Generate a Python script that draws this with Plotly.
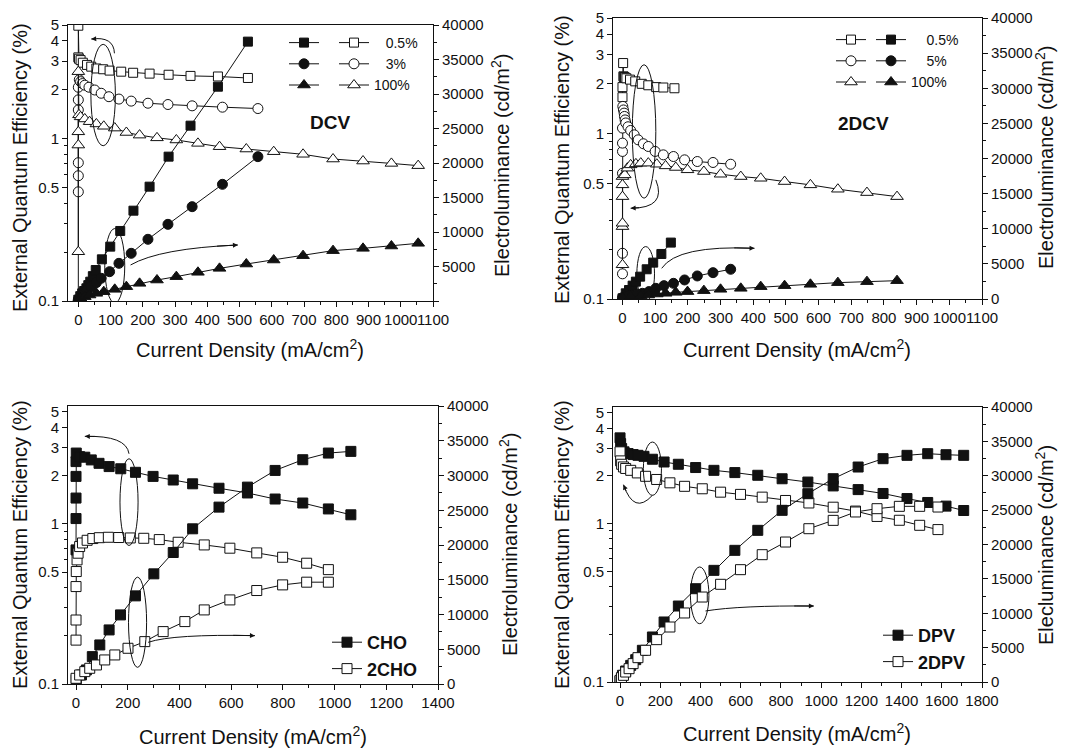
import math
import plotly.graph_objects as go

W, H = 1068, 748          # reference picture size
OFF = 8                   # page body margin of the written html
FW, FH = W - OFF, H - OFF # figure size so that figure + margin fills the window
BLACK = '#111111'
FONT = 'Liberation Sans, Arial, sans-serif'
NB = '\u00a0'

# ---------------- data ----------------
# Panel 1: DCV  (EQE on left log axis, EL on right axis)
dcv05_x_eqe = [0, 0, 0, 2, 7, 14, 27, 40, 56, 77, 97, 133, 170, 221, 280, 348, 433, 526]
dcv05_eqe = [0.08, 4.95, 3.16, 3.10, 3.04, 2.93, 2.84, 2.77, 2.70, 2.67, 2.62, 2.58, 2.54, 2.51, 2.47, 2.43, 2.41, 2.36]
dcv05_x_el = [0, 6, 12, 18, 25, 31, 37, 45, 54, 73, 99, 130, 171, 221, 280, 348, 433, 526]
dcv05_el = [200, 700, 1110, 1450, 1840, 2300, 2800, 3600, 4490, 6040, 7880, 10150, 13090, 16570, 20920, 25410, 31060, 37590]

dcv3_x_eqe = [0, 0, 0, 0, 0, 0, 3, 7, 13, 20, 33, 51, 71, 95, 126, 164, 216, 278, 353, 447, 557]
dcv3_eqe = [0.47, 0.59, 0.71, 1.50, 1.73, 2.07, 2.30, 2.24, 2.18, 2.13, 2.07, 1.99, 1.90, 1.81, 1.75, 1.70, 1.65, 1.62, 1.59, 1.56, 1.53]
dcv3_x_el = [0, 7, 14, 27, 40, 56, 71, 97, 126, 164, 216, 278, 353, 447, 557]
dcv3_el = [240, 560, 870, 1500, 2080, 2660, 3290, 4250, 5460, 6910, 8940, 11110, 13670, 16910, 20920]

dcv100_x_eqe = [0, 0, 0, 0, 2, 7, 20, 35, 56, 79, 113, 149, 190, 244, 304, 371, 438, 521, 606, 697, 790, 883, 971, 1054]
dcv100_eqe = [0.201, 0.912, 1.10, 2.58, 1.40, 1.36, 1.32, 1.27, 1.23, 1.19, 1.16, 1.09, 1.05, 1.01, 0.98, 0.934, 0.891, 0.862, 0.830, 0.80, 0.748, 0.727, 0.703, 0.681]
dcv100_x_el = [0, 7, 20, 35, 56, 79, 113, 149, 190, 244, 304, 371, 438, 521, 606, 697, 790, 883, 971, 1054]
dcv100_el = [240, 390, 630, 870, 1110, 1350, 1690, 2080, 2560, 3040, 3530, 4160, 4730, 5360, 5940, 6570, 7300, 7630, 7970, 8360]

# Panel 2: 2DCV
d2_05_x_eqe = [0, 0, 2, 3, 4, 6, 8, 12, 23, 39, 59, 79, 103, 125, 159]
d2_05_eqe = [1.66, 1.91, 2.67, 2.22, 2.20, 2.19, 2.18, 2.16, 2.12, 2.07, 2.00, 1.96, 1.91, 1.90, 1.88]
d2_05_x_el = [0, 10, 20, 31, 41, 54, 74, 94, 119, 148]
d2_05_el = [100, 810, 1280, 1900, 2470, 3180, 4230, 5180, 6410, 8030]

d2_5_x_eqe = [0, 0, 0, 0, 0, 0, 1, 3, 5, 6, 8, 10, 17, 25, 36, 48, 64, 79, 100, 125, 156, 190, 229, 277, 331]
d2_5_eqe = [0.142, 0.189, 0.576, 0.78, 0.876, 1.08, 1.46, 1.39, 1.33, 1.27, 1.21, 1.16, 1.10, 1.045, 0.983, 0.917, 0.868, 0.836, 0.78, 0.744, 0.727, 0.694, 0.678, 0.669, 0.653]
d2_5_x_el = [0, 15, 31, 46, 61, 81, 102, 127, 156, 190, 229, 277, 331]
d2_5_el = [190, 330, 480, 670, 810, 1050, 1520, 1900, 2230, 2710, 3280, 3750, 4230]

d2_100_x_eqe = [0, 0, 0, 0, 0, 0, 7, 15, 25, 41, 56, 79, 105, 132, 163, 199, 249, 300, 362, 423, 496, 575, 659, 748, 840]
d2_100_eqe = [0.161, 0.274, 0.287, 0.416, 0.49, 0.55, 0.563, 0.618, 0.647, 0.656, 0.663, 0.663, 0.653, 0.638, 0.624, 0.604, 0.59, 0.568, 0.55, 0.537, 0.513, 0.49, 0.461, 0.44, 0.416]
d2_100_x_el = [0, 25, 56, 79, 105, 132, 163, 199, 249, 300, 362, 423, 496, 575, 659, 748, 840]
d2_100_el = [100, 330, 430, 570, 710, 810, 950, 1050, 1190, 1380, 1520, 1760, 1900, 2090, 2330, 2470, 2610]

# Panel 3: CHO / 2CHO
cho_x_eqe = [0, 0, 0, 0, 0, 1, 14, 34, 59, 89, 128, 173, 230, 298, 376, 451, 553, 663, 770, 877, 976, 1063]
cho_eqe = [0.688, 1.08, 1.45, 1.98, 2.45, 2.77, 2.63, 2.61, 2.51, 2.39, 2.28, 2.21, 2.10, 1.98, 1.88, 1.78, 1.67, 1.56, 1.43, 1.35, 1.24, 1.14]
cho_x_el = [1, 21, 40, 63, 92, 128, 172, 230, 301, 376, 451, 553, 663, 770, 877, 976, 1063]
cho_el = [580, 1300, 2020, 3940, 5620, 7780, 9940, 12680, 15850, 18920, 22330, 25450, 28330, 30730, 32270, 33230, 33470]

cho2_x_eqe = [0, 0, 0, 1, 4, 8, 14, 25, 43, 65, 90, 125, 165, 210, 262, 322, 395, 496, 595, 699, 799, 892, 976]
cho2_eqe = [0.188, 0.251, 0.406, 0.504, 0.596, 0.656, 0.722, 0.76, 0.79, 0.81, 0.82, 0.825, 0.822, 0.817, 0.813, 0.798, 0.768, 0.739, 0.705, 0.659, 0.619, 0.568, 0.518]
cho2_x_el = [0, 14, 34, 53, 79, 111, 150, 201, 266, 337, 421, 496, 595, 699, 799, 892, 976]
cho2_el = [820, 1300, 1780, 2260, 2740, 3460, 4180, 5140, 6100, 7540, 8980, 10660, 12100, 13450, 14260, 14650, 14650]

# Panel 4: DPV / 2DPV
dpv_x_eqe = [0, 3, 8, 20, 40, 65, 89, 119, 161, 219, 290, 376, 467, 571, 685, 806, 934, 1060, 1184, 1308, 1427, 1530, 1621, 1709]
dpv_eqe = [3.48, 3.20, 2.98, 2.84, 2.77, 2.73, 2.70, 2.66, 2.55, 2.45, 2.37, 2.26, 2.17, 2.10, 2.02, 1.92, 1.83, 1.73, 1.64, 1.55, 1.44, 1.36, 1.29, 1.21]
dpv_x_el = [0, 12, 28, 53, 78, 111, 161, 219, 290, 376, 467, 571, 685, 806, 934, 1060, 1184, 1308, 1427, 1530, 1621, 1709]
dpv_el = [150, 970, 1600, 2420, 3250, 4610, 6550, 8730, 11050, 13570, 16240, 19150, 22060, 24970, 27390, 29570, 31270, 32480, 32970, 33210, 33060, 32970]

dpv2_x_eqe = [0, 3, 8, 17, 28, 53, 86, 127, 182, 248, 321, 409, 500, 599, 707, 823, 939, 1060, 1171, 1278, 1389, 1490, 1581]
dpv2_eqe = [2.84, 2.49, 2.37, 2.28, 2.23, 2.17, 2.09, 1.99, 1.90, 1.81, 1.72, 1.66, 1.58, 1.53, 1.47, 1.40, 1.35, 1.27, 1.20, 1.11, 1.05, 0.976, 0.917]
dpv2_x_el = [0, 7, 17, 28, 45, 65, 89, 127, 182, 248, 321, 409, 500, 599, 707, 823, 939, 1060, 1171, 1278, 1389, 1490, 1581]
dpv2_el = [240, 630, 970, 1450, 1940, 2670, 3540, 4610, 6160, 8000, 10040, 12360, 14210, 16340, 18520, 20360, 22300, 23510, 24730, 25210, 25550, 25550, 25450]

# axis ticks
eqe_ticks = [0.1, 0.5, 1, 2, 3, 4, 5]
eqe_minor = [0.2, 0.3, 0.4, 0.6, 0.7, 0.8, 0.9]
el_ticks = [0, 5000, 10000, 15000, 20000, 25000, 30000, 35000, 40000]

# ---------------- figure ----------------
fig = go.Figure()


def series(x, y, xa, ya, symbol, filled, size, legend='legend', name=' ', show=False):
    fig.add_trace(go.Scatter(
        x=x, y=y, xaxis=xa, yaxis=ya, mode='lines+markers',
        line=dict(color=BLACK, width=1),
        marker=dict(symbol=symbol, size=size, color=BLACK if filled else 'white',
                    line=dict(color=BLACK, width=1)),
        name=name, showlegend=show, legend=legend, hoverinfo='skip'))


SQ, CI, TR, BS = 9, 10, 11, 10
# panel 1 : filled = EL (legend), open = EQE (legend2)
series(dcv05_x_el, dcv05_el, 'x', 'y2', 'square', True, SQ, 'legend', ' ', True)
series(dcv3_x_el, dcv3_el, 'x', 'y2', 'circle', True, CI, 'legend', ' ', True)
series(dcv100_x_el, dcv100_el, 'x', 'y2', 'triangle-up', True, TR, 'legend', ' ', True)
series(dcv05_x_eqe, dcv05_eqe, 'x', 'y', 'square', False, SQ, 'legend2', NB * 3 + '0.5%', True)
series(dcv3_x_eqe, dcv3_eqe, 'x', 'y', 'circle', False, CI, 'legend2', NB * 3 + '3%', True)
series(dcv100_x_eqe, dcv100_eqe, 'x', 'y', 'triangle-up', False, TR, 'legend2', '100%', True)

# panel 2 : open = EQE (legend3), filled = EL (legend4)
series(d2_05_x_eqe, d2_05_eqe, 'x2', 'y3', 'square', False, SQ, 'legend3', ' ', True)
series(d2_5_x_eqe, d2_5_eqe, 'x2', 'y3', 'circle', False, CI, 'legend3', ' ', True)
series(d2_100_x_eqe, d2_100_eqe, 'x2', 'y3', 'triangle-up', False, TR, 'legend3', ' ', True)
series(d2_05_x_el, d2_05_el, 'x2', 'y4', 'square', True, SQ, 'legend4', NB * 4 + '0.5%', True)
series(d2_5_x_el, d2_5_el, 'x2', 'y4', 'circle', True, CI, 'legend4', NB * 4 + '5%', True)
series(d2_100_x_el, d2_100_el, 'x2', 'y4', 'triangle-up', True, TR, 'legend4', '100%', True)

# panel 3
series(cho_x_eqe, cho_eqe, 'x3', 'y5', 'square', True, BS, 'legend5', '<b>CHO</b>', True)
series(cho2_x_eqe, cho2_eqe, 'x3', 'y5', 'square', False, BS, 'legend5', '<b>2CHO</b>', True)
series(cho_x_el, cho_el, 'x3', 'y6', 'square', True, BS)
series(cho2_x_el, cho2_el, 'x3', 'y6', 'square', False, BS)

# panel 4
series(dpv_x_eqe, dpv_eqe, 'x4', 'y7', 'square', True, BS, 'legend6', '<b>DPV</b>', True)
series(dpv2_x_eqe, dpv2_eqe, 'x4', 'y7', 'square', False, BS, 'legend6', '<b>2DPV</b>', True)
series(dpv_x_el, dpv_el, 'x4', 'y8', 'square', True, BS)
series(dpv2_x_el, dpv2_el, 'x4', 'y8', 'square', False, BS)


# picture pixel -> paper fraction
def px(x):
    return (x - OFF) / FW


def py(y):
    return 1 - (y - OFF) / FH


def dx(a, b):
    return [px(a), px(b)]


def dy(top, bottom):
    return [py(bottom), py(top)]


TICKFONT = dict(size=15, color=BLACK, family=FONT)


def xax(dom, rng, dtick, minor, anchor):
    return dict(domain=dom, range=rng, anchor=anchor, dtick=dtick, tick0=0, automargin=False,
                showline=True, linecolor=BLACK, linewidth=1, mirror=True,
                ticks='outside', ticklen=5, tickwidth=1, tickcolor=BLACK,
                minor=dict(ticks='outside', ticklen=3, dtick=minor, tick0=0, tickcolor=BLACK),
                showgrid=False, zeroline=False, tickangle=0, tickfont=TICKFONT)


def xtop(over, rng, dtick, minor, anchor):
    return dict(overlaying=over, anchor=anchor, side='top', range=rng, dtick=dtick, tick0=0,
                automargin=False, showline=False, ticks='inside', ticklen=5, tickcolor=BLACK,
                minor=dict(ticks='inside', ticklen=3, dtick=minor, tick0=0, tickcolor=BLACK),
                showticklabels=False, showgrid=False, zeroline=False)


def yleft(dom, top, anchor):
    return dict(domain=dom, type='log', range=[-1, math.log10(top)], anchor=anchor, automargin=False,
                tickmode='array', tickvals=eqe_ticks, ticktext=[str(v) for v in eqe_ticks],
                minor=dict(tickvals=eqe_minor, ticks='outside', ticklen=3, tickcolor=BLACK),
                showline=True, linecolor=BLACK, linewidth=1,
                ticks='outside', ticklen=5, tickwidth=1, tickcolor=BLACK,
                showgrid=False, zeroline=False, tickfont=TICKFONT)


def yright(over, anchor, show_zero=True):
    return dict(overlaying=over, side='right', anchor=anchor, range=[0, 40000], automargin=False,
                tickmode='array', tickvals=el_ticks,
                ticktext=[(str(v) if (v or show_zero) else '') for v in el_ticks],
                minor=dict(dtick=2500, tick0=0, ticks='outside', ticklen=3, tickcolor=BLACK),
                showline=True, linecolor=BLACK, linewidth=1,
                ticks='outside', ticklen=5, tickwidth=1, tickcolor=BLACK,
                showgrid=False, zeroline=False, tickfont=TICKFONT)


r1, r2, r3, r4 = [-32, 1100], [-29, 1100], [-31, 1400], [-35, 1800]
layout = dict(
    width=FW, height=FH, margin=dict(l=0, r=0, t=0, b=0, autoexpand=False),
    paper_bgcolor='white', plot_bgcolor='white',
    font=dict(family=FONT, color=BLACK),
    xaxis=xax(dx(68, 433), r1, 100, 50, 'y'),
    yaxis=yleft(dy(25, 301), 5, 'x'),
    yaxis2=yright('y', 'x', show_zero=False),
    xaxis2=xax(dx(613, 982), r2, 100, 50, 'y3'),
    yaxis3=yleft(dy(18, 299), 5, 'x2'),
    yaxis4=yright('y3', 'x2'),
    xaxis3=xax(dx(68, 438), r3, 200, 100, 'y5'),
    yaxis5=yleft(dy(406, 684), 5.45, 'x3'),
    yaxis6=yright('y5', 'x3'),
    xaxis4=xax(dx(613, 982), r4, 200, 100, 'y7'),
    yaxis7=yleft(dy(407, 682), 5.45, 'x4'),
    yaxis8=yright('y7', 'x4'),
    xaxis5=xtop('x', r1, 100, 50, 'y'),
    xaxis6=xtop('x2', r2, 100, 50, 'y3'),
    xaxis7=xtop('x3', r3, 200, 100, 'y5'),
    xaxis8=xtop('x4', r4, 200, 100, 'y7'),
)

leg_common = dict(xanchor='left', yanchor='top', bgcolor='rgba(0,0,0,0)',
                  borderwidth=0, itemwidth=30, tracegroupgap=0, traceorder='normal')
LF = dict(size=14, family=FONT, color=BLACK)
BF = dict(size=18, family=FONT, color=BLACK)
layout['legend'] = dict(x=px(284), y=py(27), font=LF, **leg_common)
layout['legend2'] = dict(x=px(334), y=py(27), font=LF, **leg_common)
layout['legend3'] = dict(x=px(831), y=py(24), font=LF, **leg_common)
layout['legend4'] = dict(x=px(871), y=py(24), font=LF, **leg_common)
layout['legend5'] = dict(x=px(327), y=py(624), font=BF, **leg_common)
layout['legend6'] = dict(x=px(878), y=py(617), font=BF, **leg_common)

fig.update_layout(**layout)

# ---------------- titles ----------------
XT = 'Current Density (mA/cm<sup>2</sup>)'
YL = 'External Quantum Efficiency (%)'
titles = [
    (250, 348, XT, 0), (20, 168, YL, -90), (500, 166, 'Electroluminance (cd/m<sup>2</sup>)', -90),
    (797, 348, XT, 0), (562, 160, YL, -90), (1044, 158, 'Electroluminance (cd/m<sup>2</sup>)', -90),
    (253, 735, XT, 0), (20, 545, YL, -90), (508, 545, 'Electroluminance (cd/m<sup>2</sup>)', -90),
    (797, 732, XT, 0), (562, 545, YL, -90), (1044, 545, 'Elecluminance (cd/m<sup>2</sup>)', -90),
]
for (tx, ty, txt, ang) in titles:
    fig.add_annotation(x=px(tx), y=py(ty), xref='paper', yref='paper', text=txt,
                       textangle=ang, showarrow=False, xanchor='center', yanchor='middle',
                       font=dict(size=20, family=FONT, color=BLACK))

fig.add_annotation(x=780, y=25800, xref='x', yref='y2', text='<b>DCV</b>', showarrow=False,
                   font=dict(size=19, family=FONT, color=BLACK))
fig.add_annotation(x=738, y=25000, xref='x2', yref='y4', text='<b>2DCV</b>', showarrow=False,
                   font=dict(size=19, family=FONT, color=BLACK))

# ---------------- ellipses and curved arrows ----------------
ellipses = [
    ('x', 'y2', 39, 115, 22500, 37200), ('x', 'y2', 82, 144, -300, 10500),
    ('x2', 'y4', 30, 102, 14350, 33350), ('x2', 'y4', 44, 98, -300, 7460),
    ('x3', 'y6', 170, 240, 19930, 32410), ('x3', 'y6', 203, 273, 2400, 15370),
    ('x4', 'y8', 116, 206, 27150, 34900), ('x4', 'y8', 350, 442, 8480, 16730),
]
for xr, yr, x0, x1, y0, y1 in ellipses:
    fig.add_shape(type='circle', xref=xr, yref=yr, x0=x0, x1=x1, y0=y0, y1=y1,
                  line=dict(color=BLACK, width=1))

arrows = [
    ('x', 'y2', (112, 35900), (110, 38400), (40, 37970)),
    ('x', 'y2', (162, 5220), (252, 7630), (495, 8120)),
    ('x2', 'y4', (102, 16960), (137, 12920), (25, 12920)),
    ('x2', 'y4', (120, 4370), (168, 7700), (404, 7220)),
    ('x3', 'y6', (205, 33130), (195, 35780), (34, 35630)),
    ('x3', 'y6', (279, 6000), (376, 7200), (692, 6960)),
    ('x4', 'y8', (161, 27150), (70, 24240), (17, 28700)),
    ('x4', 'y8', (425, 10330), (599, 11150), (964, 11050)),
]
for xr, yr, p0, c, p1 in arrows:
    fig.add_shape(type='path', xref=xr, yref=yr,
                  path=f'M {p0[0]},{p0[1]} Q {c[0]},{c[1]} {p1[0]},{p1[1]}',
                  line=dict(color=BLACK, width=1), fillcolor='rgba(0,0,0,0)')
    t = 0.85
    bx = (1 - t) ** 2 * p0[0] + 2 * (1 - t) * t * c[0] + t ** 2 * p1[0]
    by = (1 - t) ** 2 * p0[1] + 2 * (1 - t) * t * c[1] + t ** 2 * p1[1]
    fig.add_annotation(x=p1[0], y=p1[1], xref=xr, yref=yr, ax=bx, ay=by, axref=xr, ayref=yr,
                       text='', showarrow=True, arrowhead=2, arrowsize=1, arrowwidth=1,
                       arrowcolor=BLACK)

fig.write_html('out.html')
